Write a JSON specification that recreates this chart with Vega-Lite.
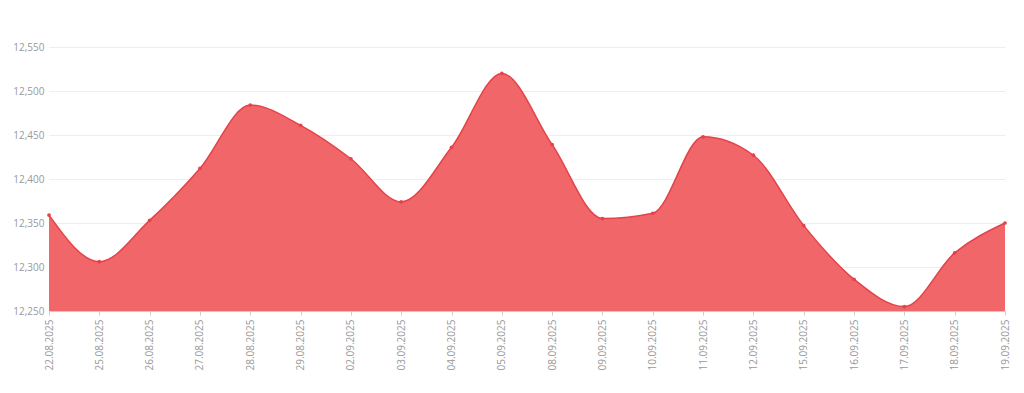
{
  "$schema": "https://vega.github.io/schema/vega-lite/v6.json",
  "width": 956,
  "height": 264,
  "autosize": {"type": "none"},
  "padding": {"left": 49, "top": 47, "right": 19, "bottom": 82},
  "background": "white",
  "config": {
    "view": {"stroke": null},
    "font": "Open Sans"
  },
  "data": {
    "values": [
      {"date": "22.08.2025", "value": 12359},
      {"date": "25.08.2025", "value": 12306},
      {"date": "26.08.2025", "value": 12353},
      {"date": "27.08.2025", "value": 12412},
      {"date": "28.08.2025", "value": 12484},
      {"date": "29.08.2025", "value": 12461},
      {"date": "02.09.2025", "value": 12423},
      {"date": "03.09.2025", "value": 12374},
      {"date": "04.09.2025", "value": 12436},
      {"date": "05.09.2025", "value": 12520},
      {"date": "08.09.2025", "value": 12439},
      {"date": "09.09.2025", "value": 12355},
      {"date": "10.09.2025", "value": 12361},
      {"date": "11.09.2025", "value": 12448},
      {"date": "12.09.2025", "value": 12427},
      {"date": "15.09.2025", "value": 12347},
      {"date": "16.09.2025", "value": 12286},
      {"date": "17.09.2025", "value": 12255},
      {"date": "18.09.2025", "value": 12316},
      {"date": "19.09.2025", "value": 12350}
    ]
  },
  "encoding": {
    "x": {
      "field": "date",
      "type": "ordinal",
      "sort": null,
      "scale": {"type": "point", "padding": 0},
      "axis": {
        "title": null,
        "labelAngle": -90,
        "labelAlign": "right",
        "labelBaseline": "middle",
        "labelFontSize": 10,
        "labelColor": "#999999",
        "labelPadding": 4,
        "labelOverlap": false,
        "tickSize": 4,
        "tickColor": "#cccccc",
        "domainColor": "#cccccc",
        "grid": false
      }
    },
    "y": {
      "field": "value",
      "type": "quantitative",
      "scale": {"domain": [12250, 12550], "zero": false, "nice": false},
      "axis": {
        "title": null,
        "values": [12250, 12300, 12350, 12400, 12450, 12500, 12550],
        "format": ",.0f",
        "labelFontSize": 10,
        "labelColor": "#999999",
        "labelPadding": 5,
        "ticks": false,
        "domain": false,
        "grid": true,
        "gridColor": "#eeeeee",
        "gridWidth": 1
      }
    }
  },
  "layer": [
    {
      "mark": {"type": "area", "interpolate": "monotone", "color": "#f16668", "opacity": 1, "clip": true}
    },
    {
      "mark": {"type": "line", "interpolate": "monotone", "color": "#e3434a", "strokeWidth": 1.5}
    },
    {
      "mark": {"type": "point", "filled": true, "size": 14, "color": "#e3434a", "opacity": 1}
    }
  ]
}
